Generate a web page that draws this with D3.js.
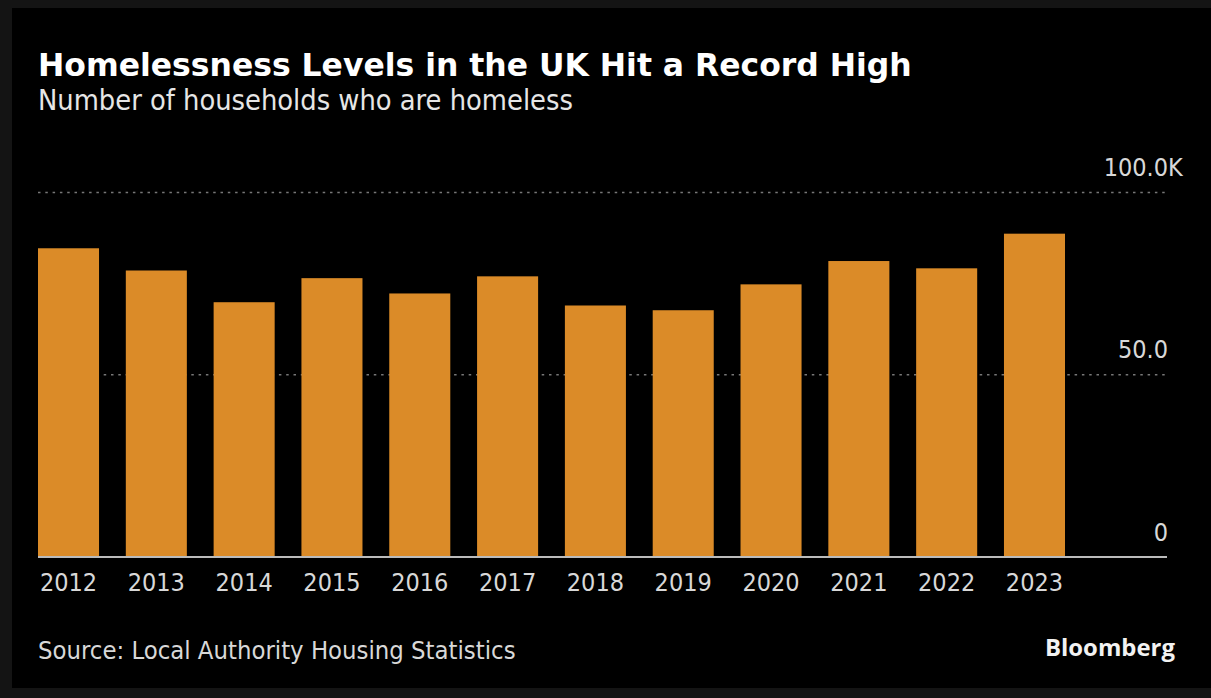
<!DOCTYPE html>
<html>
<head>
<meta charset="utf-8">
<script src="https://cdn.jsdelivr.net/npm/d3@7"></script>
<style>
  html, body { margin: 0; padding: 0; background: #141414; }
  svg { display: block; }
</style>
</head>
<body>
<svg id="chart" width="1211" height="698"></svg>
<script>
const years = ["2012","2013","2014","2015","2016","2017","2018","2019","2020","2021","2022","2023"];
const households = [84.7, 78.6, 69.9, 76.5, 72.3, 77.0, 69.0, 67.7, 74.8, 81.2, 79.2, 88.7];
const yTicks = [0, 50, 100];
const yTickLabels = ["0", "50.0", "100.0"];
const title = "Homelessness Levels in the UK Hit a Record High";
const subtitle = "Number of households who are homeless";
const source = "Source: Local Authority Housing Statistics";

const svg = d3.select("#chart");
svg.append("rect").attr("x", 0).attr("y", 0).attr("width", 1211).attr("height", 698).attr("fill", "#141414");
svg.append("rect").attr("x", 12).attr("y", 8).attr("width", 1199).attr("height", 680).attr("fill", "#000");

const condensed = "'DejaVu Sans Condensed', 'DejaVu Sans', sans-serif";

function fit(sel, targetW) {
  const w = sel.node().getComputedTextLength();
  const fs = parseFloat(sel.attr("font-size"));
  sel.attr("font-size", fs * targetW / w);
  return sel;
}

const x = d3.scaleBand().domain(years).range([38, 1065]).paddingInner(0.305).paddingOuter(0);
const y = d3.scaleLinear().domain([0, 100]).range([557, 192.5]);

// gridlines
svg.append("g").selectAll("line").data(yTicks.filter(d => d > 0)).join("line")
  .attr("x1", 38).attr("x2", 1167)
  .attr("y1", d => y(d)).attr("y2", d => y(d))
  .attr("stroke", "#777").attr("stroke-width", 1.6)
  .attr("stroke-dasharray", "2.5,4.8");

// bars
svg.append("g").selectAll("rect").data(years).join("rect")
  .attr("x", d => x(d))
  .attr("width", x.bandwidth())
  .attr("y", (d, i) => y(households[i]))
  .attr("height", (d, i) => y(0) - y(households[i]))
  .attr("fill", "#db8b28");

// baseline
svg.append("line").attr("x1", 38).attr("x2", 1167).attr("y1", y(0)).attr("y2", y(0))
  .attr("stroke", "#bbb").attr("stroke-width", 2);

// y tick labels
const yl = svg.append("g");
yTicks.forEach((t, i) => {
  yl.append("text").attr("x", 1168).attr("y", y(t) - 16.5)
    .attr("text-anchor", "end").attr("font-family", condensed).attr("font-size", 25)
    .attr("fill", "#d8d8d8").text(yTickLabels[i]);
});
yl.append("text").attr("x", 1168).attr("y", y(100) - 16.5)
  .attr("text-anchor", "start").attr("font-family", condensed).attr("font-size", 25)
  .attr("fill", "#d8d8d8").text("K");

// x labels
svg.append("g").selectAll("text").data(years).join("text")
  .attr("x", d => x(d) + x.bandwidth() / 2)
  .attr("y", 591)
  .attr("text-anchor", "middle")
  .attr("font-family", condensed).attr("font-size", 25)
  .attr("fill", "#d8d8d8").text(d => d);

// title
fit(svg.append("text").attr("x", 38).attr("y", 76)
  .attr("font-family", "'DejaVu Sans', sans-serif").attr("font-weight", "bold")
  .attr("font-size", 28).attr("fill", "#fff").text(title), 874);

fit(svg.append("text").attr("x", 38).attr("y", 110)
  .attr("font-family", condensed).attr("font-size", 26)
  .attr("fill", "#e6e6e6").text(subtitle), 535);

fit(svg.append("text").attr("x", 38).attr("y", 659)
  .attr("font-family", condensed).attr("font-size", 23)
  .attr("fill", "#d8d8d8").text(source), 478);

fit(svg.append("text").attr("x", 1045).attr("y", 656)
  .attr("font-family", "'Open Sans', sans-serif").attr("font-weight", "bold")
  .attr("font-size", 24).attr("fill", "#f2f2f2").text("Bloomberg"), 130);
</script>
</body>
</html>
